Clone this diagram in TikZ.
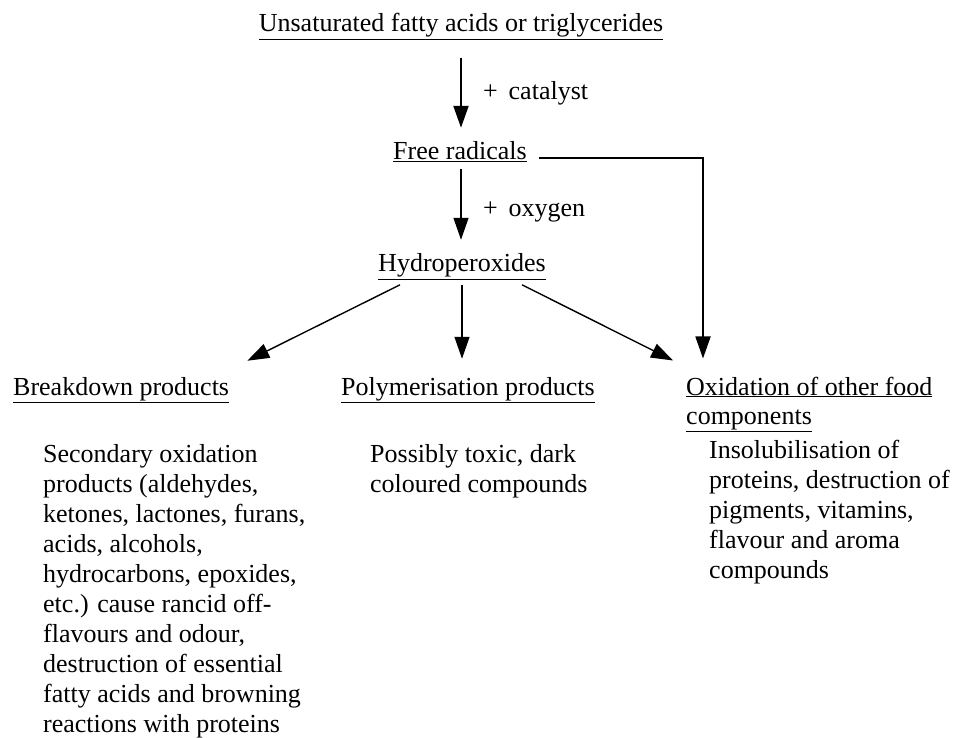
\documentclass[tikz,border=0pt]{standalone}
\usepackage{fontspec}
\setmainfont{Liberation Serif}
\usetikzlibrary{arrows.meta}

\begin{document}
\begin{tikzpicture}[x=1pt,y=-1pt,
	txt/.style={anchor=base west,inner sep=0pt,align=left,font=\fontsize{26}{30}\selectfont},
	head/.style={txt,anchor=base},
	arr/.style={-{Triangle[length=22pt,width=15pt]},line width=1.4pt}]
	\useasboundingbox (0,0) rectangle (956,738);
	% main chain
	\node[head] (fatty) at (461,32) {\underline{Unsaturated fatty acids or triglycerides}};
	\node[head] (freerad) at (460,160) {\underline{Free radicals}};
	\node[head] (hydro) at (462,272) {\underline{Hydroperoxides}};
	\node[txt] (cat) at (483,100) {+\, catalyst};
	\node[txt] (oxy) at (483,217) {+\, oxygen};
	\draw[arr,line width=2.2pt,shorten <=18pt,shorten >=14pt] (fatty.south) -- (fatty.south |- freerad.north);
	\draw[arr,shorten <=7pt,shorten >=14pt] (freerad.south -| fatty.south) -- (fatty.south |- hydro.north);
	% products (base of a multi-line node is its last line)
	\node[txt] (brk) at (13,395) {\underline{Breakdown products}};
	\node[txt] (poly) at (341,395) {\underline{Polymerisation products}};
	\node[txt,font=\fontsize{26}{29}\selectfont] (oxid) at (686,424) {\underline{Oxidation of other food}\\\underline{components}};
	\draw[arr] ([xshift=-62pt,yshift=-5pt]hydro.south) -- ([xshift=18pt,yshift=16pt]brk.north east);
	\draw[arr] ([yshift=-5pt]hydro.south) -- ([yshift=18pt]hydro.south |- poly.north);
	\draw[arr] ([xshift=60pt,yshift=-5pt]hydro.south) -- ([xshift=-13pt,yshift=16pt]oxid.north west);
	\draw[arr,line width=1.8pt] ([xshift=12pt,yshift=2pt]freerad.base east) -| ([xshift=17pt,yshift=18pt]oxid.north west);
	% descriptions
	\node[txt] (brktxt) at (43,732) {Secondary oxidation\\products (aldehydes,\\ketones, lactones, furans,\\acids, alcohols,\\hydrocarbons, epoxides,\\etc.) cause rancid off-\\flavours and odour,\\destruction of essential\\fatty acids and browning\\reactions with proteins};
	\node[txt] (polytxt) at (370,492) {Possibly toxic, dark\\coloured compounds};
	\node[txt] (oxidtxt) at (709,578) {Insolubilisation of\\proteins, destruction of\\pigments, vitamins,\\flavour and aroma\\compounds};
\end{tikzpicture}
\end{document}
